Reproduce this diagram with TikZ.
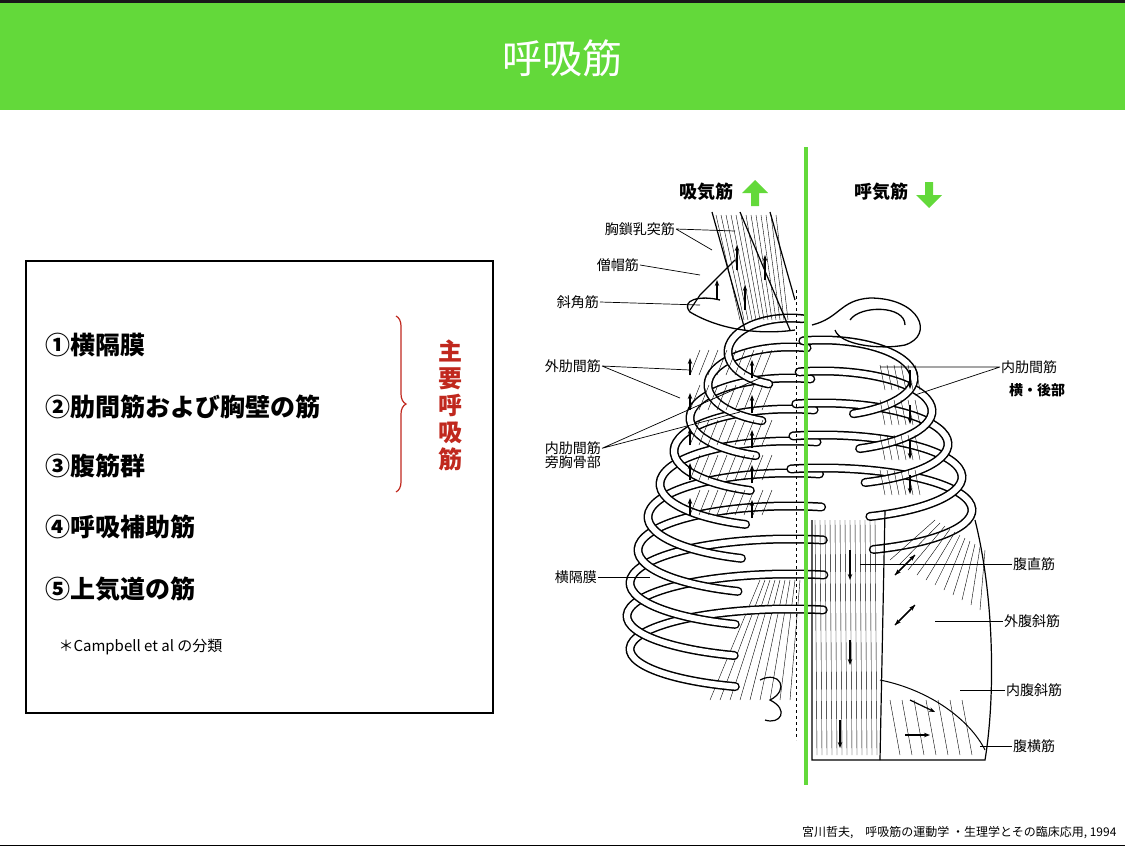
\documentclass[tikz,border=0pt]{standalone}
\usepackage{fontspec}
\setmainfont{Noto Sans CJK JP}
\usetikzlibrary{decorations.pathreplacing,arrows.meta}
\definecolor{hdr}{HTML}{63D93A}
\definecolor{redc}{HTML}{C0281E}
\begin{document}
\begin{tikzpicture}[x=1pt,y=-1pt,
  lbl/.style={font=\fontsize{14}{14}\selectfont, inner sep=1pt},
  lead/.style={line width=0.7pt},
  item/.style={font=\fontsize{25}{25}\selectfont\bfseries, anchor=west, inner sep=0pt},
  rib/.style={line width=9pt, line cap=round},
  ribin/.style={white, line width=6pt, line cap=round},
  marr/.style={-{Stealth[length=6pt]}, line width=1.2pt}]
\useasboundingbox (0,0) rectangle (1125,847);
\fill[black!90] (0,0) rectangle (1125,2.5);
\fill[hdr] (0,2.5) rectangle (1125,110);
\node[white, font=\fontsize{40}{40}\selectfont] (title) at (562,58) {呼吸筋};
% left box
\draw[line width=1.3pt] (26,261) rectangle (493,713);
\node[item] (i1) at (45,345) {①横隔膜};
\node[item] (i2) at (45,407) {②肋間筋および胸壁の筋};
\node[item] (i3) at (45,466) {③腹筋群};
\node[item] (i4) at (45,527) {④呼吸補助筋};
\node[item] (i5) at (45,589) {⑤上気道の筋};
\node[anchor=west, font=\fontsize{15}{15}\selectfont] (note) at (55,647) {＊Campbell et al の分類};
\draw[redc, line width=1.2pt, decorate, decoration={brace, amplitude=10pt}] (396,316) -- (396,492);
\node[redc, font=\fontsize{24}{27}\selectfont\bfseries, align=center] (main) at (450,405) {主\\要\\呼\\吸\\筋};
% diaphragm left lower
\foreach \k in {0,...,8}{\draw[line width=0.4pt] (710+\k*10,700) -- (760+\k*5,580);}
\draw[line width=1.2pt] (760,680) .. controls (780,670) and (790,690) .. (770,700) .. controls (790,710) and (780,725) .. (765,720);
% ribs left (drawn bottom first)
\foreach \i/\r/\h in {9/160/40,8/163/42,7/160/44,6/152/44,5/142/44,4/130/43,3/116/42,2/100/40,1/82/38,0/62/34}{
  \pgfmathsetmacro{\sy}{352+\i*33+\h*sin(282)}
  \pgfmathsetmacro{\sx}{790+\r*cos(282)}
  \draw[rib] (\sx,\sy) arc[start angle=282,end angle=110,x radius=\r,y radius=\h];
  \draw[ribin] (\sx,\sy) arc[start angle=282,end angle=110,x radius=\r,y radius=\h];
}
% ribs right
\foreach \i/\r/\h in {5/150/42,4/140/42,3/126/41,2/110/40,1/92/38}{
  \pgfmathsetmacro{\sy}{345+\i*33+\h*sin(258)}
  \pgfmathsetmacro{\sx}{822+\r*cos(258)}
  \draw[rib] (\sx,\sy) arc[start angle=258,end angle=430,x radius=\r,y radius=\h];
  \draw[ribin] (\sx,\sy) arc[start angle=258,end angle=430,x radius=\r,y radius=\h];
}
% first rib right (loop)
\draw[line width=1.3pt] (812,325) .. controls (840,318) and (840,300) .. (870,298) .. controls (920,298) and (935,335) .. (905,345) .. controls (880,350) and (840,345) .. (835,330);
\draw[line width=1.3pt] (850,320) .. controls (860,305) and (905,305) .. (905,325);
% clavicle left
\draw[line width=1.3pt] (795,330) .. controls (760,335) and (720,330) .. (690,312) .. controls (680,300) and (700,295) .. (720,300);
% neck muscles
\draw[line width=1.2pt] (712,212) -- (745,330) (740,212) -- (790,330) (770,212) -- (795,300);
\draw[line width=1.2pt] (735,260) -- (700,295) -- (690,310);
\foreach \k in {0,...,12}{\draw[line width=0.4pt] (716+\k*5,215) -- (740+\k*4,320);}
\draw[marr] (745,310) -- (745,285);
\draw[marr] (737,270) -- (737,245);
\draw[marr] (765,280) -- (765,255);
\draw[marr] (717,300) -- (717,280);
% hatched intercostal patches left
\foreach \y in {350,385,420,455,490}{
  \foreach \k in {0,...,8}{\draw[line width=0.4pt] (690+\k*9,\y+25) -- (700+\k*9,\y);}
  \draw[marr] (690,\y+25) -- (690,\y+8);
  \draw[marr] (752,\y+28) -- (752,\y+10);
}
% right intercostal patches
\foreach \y in {365,400,435,470}{
  \foreach \k in {0,...,5}{\draw[line width=0.4pt] (880+\k*7,\y) -- (885+\k*7,\y+25);}
  \draw[marr] (910,\y+5) -- (910,\y+24);
}
% abdomen
\draw[line width=1.2pt] (812,520) -- (812,760) -- (985,760) .. controls (995,700) and (995,600) .. (975,520);
\draw[line width=1.2pt] (885,510) -- (880,760);
\foreach \k in {0,...,12}{\draw[line width=0.4pt] (815+\k*5,520) -- (817+\k*5,755);}
\foreach \k in {0,...,10}{\draw[line width=0.4pt] (890+\k*9,560+\k*5) -- (935+\k*5,520+\k*3);}
\draw[line width=1pt] (880,680) .. controls (930,690) and (970,720) .. (985,750);
\foreach \k in {0,...,6}{\draw[line width=0.4pt] (890+\k*12,700) -- (900+\k*12,755);}
\draw[marr] (850,550) -- (850,580);
\draw[marr] (850,640) -- (850,665);
\draw[marr] (840,720) -- (840,748);
\draw[marr] (895,575) -- (915,555);
\draw[marr] (915,555) -- (895,575);
\draw[marr] (895,625) -- (915,605);
\draw[marr] (915,605) -- (895,625);
\draw[marr] (910,700) -- (935,712);
\draw[marr] (905,735) -- (930,735);
\draw[dashed, line width=0.8pt] (796,290) -- (796,740);
% green divider
\draw[hdr, line width=4pt] (806,147) -- (806,785);
% headers
\node[font=\fontsize{18}{18}\selectfont\bfseries, anchor=east] (insp) at (737,192) {吸気筋};
\fill[hdr] (742,193) -- (755,180) -- (768,193) -- (759,193) -- (759,206) -- (751,206) -- (751,193) -- cycle;
\node[font=\fontsize{18}{18}\selectfont\bfseries, anchor=east] (exp) at (912,192) {呼気筋};
\fill[hdr] (916,195) -- (925,195) -- (925,182) -- (933,182) -- (933,195) -- (942,195) -- (929,208) -- cycle;
% left labels
\node[lbl, anchor=east] (l1) at (676,229) {胸鎖乳突筋};
\node[lbl, anchor=east] (l2) at (640,265) {僧帽筋};
\node[lbl, anchor=east] (l3) at (600,302) {斜角筋};
\node[lbl, anchor=east] (l4) at (602,366) {外肋間筋};
\node[lbl, anchor=east, align=left] (l5) at (602,455) {内肋間筋\\旁胸骨部};
\node[lbl, anchor=east] (l6) at (598,577) {横隔膜};
\coordinate (p1a) at (735,231); \coordinate (p1b) at (712,250);
\draw[lead] (l1.east) -- (p1a) (l1.east) -- (p1b);
\coordinate (p2) at (700,275); \draw[lead] (l2.east) -- (p2);
\coordinate (p3) at (700,305); \draw[lead] (l3.east) -- (p3);
\coordinate (p4a) at (690,370); \coordinate (p4b) at (680,398);
\draw[lead] (l4.east) -- (p4a) (l4.east) -- (p4b);
\coordinate (p5a) at (760,378); \coordinate (p5b) at (740,412);
\draw[lead] ([yshift=-8pt]l5.north east) -- (p5a) ([yshift=-8pt]l5.north east) -- (p5b);
\coordinate (p6) at (650,577); \draw[lead] (l6.east) -- (p6);
% right labels
\node[lbl, anchor=west] (r1) at (1000,367) {内肋間筋};
\node[lbl, anchor=west, font=\fontsize{14}{14}\selectfont\bfseries] (r1b) at (1008,390) {横・後部};
\node[lbl, anchor=west] (r2) at (1012,564) {腹直筋};
\node[lbl, anchor=west] (r3) at (1003,621) {外腹斜筋};
\node[lbl, anchor=west] (r4) at (1005,690) {内腹斜筋};
\node[lbl, anchor=west] (r5) at (1012,746) {腹横筋};
\coordinate (q1a) at (880,367); \coordinate (q1b) at (915,395);
\draw[lead] (r1.west) -- (q1a) (r1.west) -- (q1b);
\coordinate (q2) at (860,564); \draw[lead] (r2.west) -- (q2);
\coordinate (q3) at (935,621); \draw[lead] (r3.west) -- (q3);
\coordinate (q4) at (960,690); \draw[lead] (r4.west) -- (q4);
\coordinate (q5) at (980,746); \draw[lead] (r5.west) -- (q5);
% footer
\node[anchor=east, font=\fontsize{12}{12}\selectfont] (cite) at (1120,833) {宮川哲夫,　呼吸筋の運動学 ・生理学とその臨床応用, 1994};
\draw[line width=1pt] (0,845) -- (1125,845);
\end{tikzpicture}
\end{document}
